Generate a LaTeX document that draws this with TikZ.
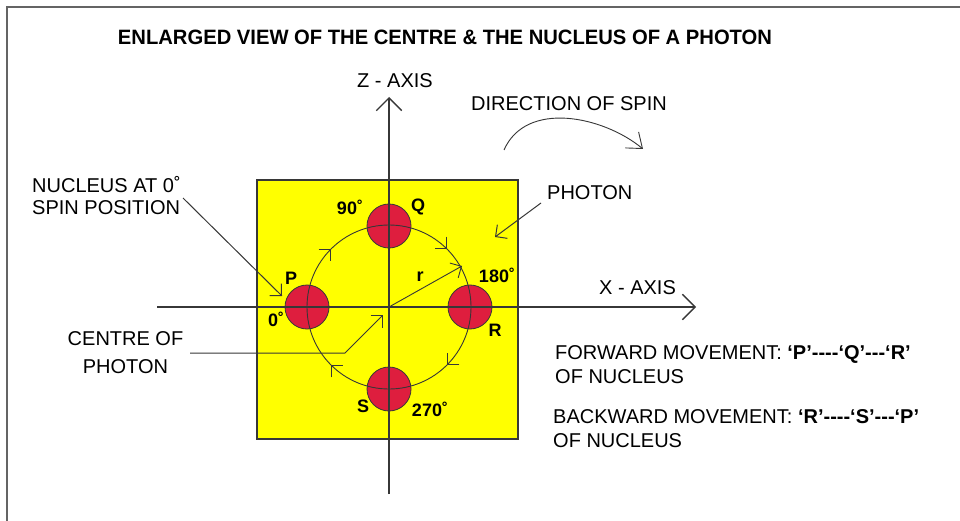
\documentclass[tikz,border=0pt]{standalone}
\usepackage{fontspec}
\setmainfont{Liberation Sans}
\usetikzlibrary{arrows.meta,decorations.markings}
\definecolor{nucred}{RGB}{222,30,62}
\definecolor{ylw}{RGB}{255,255,0}
\definecolor{axisgray}{RGB}{55,55,55}
\definecolor{framegray}{RGB}{100,100,100}
\begin{document}
\begin{tikzpicture}[x=1pt,y=-1pt,
  txt/.style={inner sep=0pt, font=\fontsize{20}{24}\selectfont, text height=14.3pt, text depth=0pt},
  btxt/.style={inner sep=0pt, font=\fontsize{18}{22}\selectfont\bfseries, text height=12.9pt, text depth=0pt},
  nucleus/.style={circle, draw=axisgray, line width=0.8pt, fill=nucred, minimum size=44pt, inner sep=0pt},
  axisline/.style={draw=axisgray, line width=1.3pt, -{Straight Barb[angle=90:18pt]}},
  pointer/.style={draw=axisgray, line width=1pt, -{Straight Barb[angle=90:12pt]}},
  orbit/.style={draw=axisgray, line width=0.9pt,
    postaction={decorate},
    decoration={markings,
      mark=at position 0.125 with {\arrow{Straight Barb[angle=90:12pt]}},
      mark=at position 0.375 with {\arrow{Straight Barb[angle=90:12pt]}},
      mark=at position 0.625 with {\arrow{Straight Barb[angle=90:12pt]}},
      mark=at position 0.875 with {\arrow{Straight Barb[angle=90:12pt]}}}}
]
\useasboundingbox (0,0) rectangle (960,521);
\fill[white] (0,0) rectangle (960,521);
% frame
\coordinate (fbl) at (7,521);
\coordinate (ftl) at (7,7);
\coordinate (ftr) at (960,7);
\draw[framegray, line width=2pt] (fbl) -- (ftl) -- (ftr);

% title
\node[inner sep=0pt] (title) at (445,37) {\resizebox{654pt}{14.5pt}{\bfseries ENLARGED VIEW OF THE CENTRE \& THE NUCLEUS OF A PHOTON}};

% photon square
\node[draw=axisgray, line width=1.2pt, fill=ylw, minimum width=261pt, minimum height=259pt, inner sep=0pt] (photon) at (387.5,309.5) {};

% nuclei
\node[nucleus] (P) at (307,307) {};
\node[nucleus] (Q) at (389,226) {};
\node[nucleus] (R) at (470,307) {};
\node[nucleus] (S) at (389,389) {};

% orbit (clockwise on page)
\coordinate (O) at (389,307);
\path[orbit] (307,307) arc[start angle=180, end angle=540, radius=82];

% axes
\coordinate (xs) at (157,307);
\coordinate (xe) at (696,307);
\coordinate (zs) at (389,494);
\coordinate (ze) at (389,97);
\draw[axisline] (xs) -- (xe);
\draw[axisline] (zs) -- (ze);

% radius
\coordinate (rend) at (462,266);
\draw[pointer, line width=0.9pt] (O) -- (rend);
\node[btxt, anchor=base, text height=9pt] (rlab) at (420,281) {r};

% labels near nuclei
\node[btxt] (l90) at (350,208) {90˚};
\node[btxt] (lQ) at (418,205.5) {Q};
\node[btxt] (lP) at (291,278.5) {P};
\node[btxt] (l0) at (276,320) {0˚};
\node[btxt] (l180) at (497,276) {180˚};
\node[btxt] (lR) at (495,330.5) {R};
\node[btxt] (lS) at (363,406.5) {S};
\node[btxt] (l270) at (430,410.5) {270˚};

% axis labels
\node[txt, anchor=west] (zlab) at (357,80) {Z - AXIS};
\node[txt, anchor=west] (xlab) at (599,287) {X - AXIS};

% direction of spin
\node[txt, anchor=west] (spinlab) at (471,103.5) {DIRECTION OF SPIN};
\coordinate (sp1) at (504,150);
\coordinate (sp2) at (643,149);
\draw[draw=axisgray, line width=0.9pt, -{Straight Barb[angle=75:17pt]}] (sp1) .. controls (526,100) and (603,116) .. (sp2);

% photon label
\node[txt, anchor=west] (photlab) at (547,192) {PHOTON};
\coordinate (ph1) at (541,203);
\coordinate (ph2) at (495,237);
\draw[pointer] (ph1) -- (ph2);

% nucleus label
\node[txt, anchor=west] (nuc1) at (32,185.5) {NUCLEUS AT 0˚};
\node[txt, anchor=west] (nuc2) at (32,207.5) {SPIN POSITION};
\coordinate (nc1) at (183,198);
\coordinate (nc2) at (282,296);
\draw[pointer] (nc1) -- (nc2);

% centre label
\node[txt] (cen1) at (125.5,338) {CENTRE OF};
\node[txt] (cen2) at (125.5,366.5) {PHOTON};
\coordinate (cc1) at (190,353);
\coordinate (cc2) at (345,353);
\coordinate (cc3) at (383,315);
\draw[pointer] (cc1) -- (cc2) -- (cc3);

% movements
\node[txt, anchor=west] (fw1) at (555,352) {FORWARD MOVEMENT: \textbf{‘P’-{}-{}-{}-‘Q’-{}-{}-‘R’}};
\node[txt, anchor=west] (fw2) at (555,376) {OF NUCLEUS};
\node[txt, anchor=west] (bw1) at (553,416) {BACKWARD MOVEMENT: \textbf{‘R’-{}-{}-{}-‘S’-{}-{}-‘P’}};
\node[txt, anchor=west] (bw2) at (553,440) {OF NUCLEUS};
\end{tikzpicture}
\end{document}
